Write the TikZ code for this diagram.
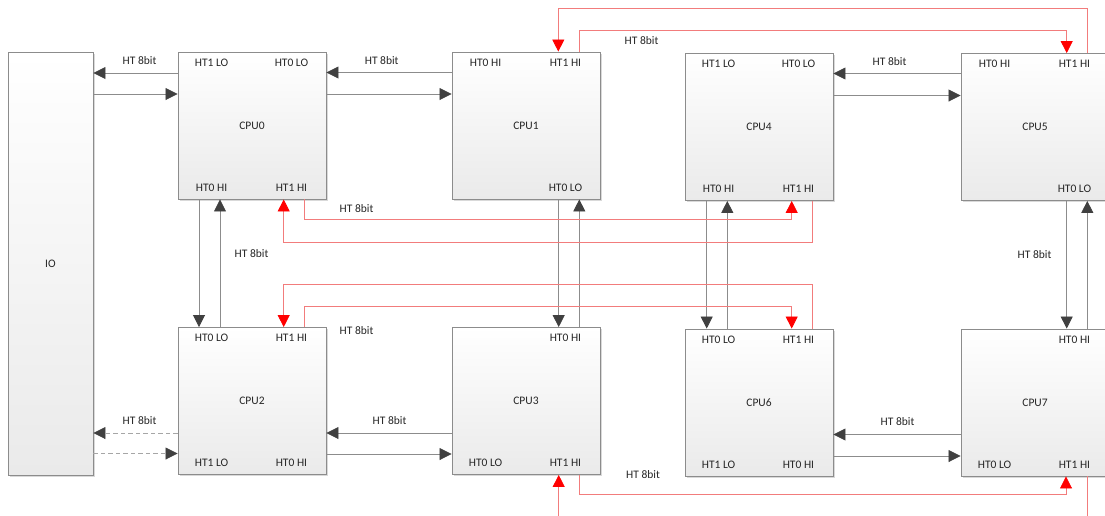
\documentclass[tikz,border=0pt]{standalone}
\usepackage{fontspec}
\setmainfont{Carlito}
\usetikzlibrary{arrows.meta,calc,shadows}
\definecolor{lnGray}{HTML}{8C8C8C}
\definecolor{lnDash}{HTML}{A6A6A6}
\definecolor{tipGray}{HTML}{404040}
\definecolor{lnRed}{HTML}{F27C7C}
\definecolor{tipRed}{HTML}{FF0000}
\definecolor{txtc}{HTML}{262626}
\definecolor{boxEdge}{HTML}{8C8C8C}
\definecolor{boxBot}{HTML}{EAEAEA}
\newcommand\labTL[2]{\node[plab] (#1tl) at ($(#1.north west)+(34,11)$) {#2};}
\newcommand\labTR[2]{\node[plab] (#1tr) at ($(#1.north east)+(-35,11)$) {#2};}
\newcommand\labBL[2]{\node[plab] (#1bl) at ($(#1.south west)+(34,-12)$) {#2};}
\newcommand\labBR[2]{\node[plab] (#1br) at ($(#1.south east)+(-35,-12)$) {#2};}
\begin{document}
\begin{tikzpicture}[x=1pt,y=-1pt,
  font=\fontsize{11.5}{13}\selectfont, text=txtc,
  box/.style={draw=boxEdge, line width=0.9pt, top color=white, bottom color=boxBot,
    minimum width=148pt, minimum height=147pt, inner sep=0pt,
    drop shadow={shadow xshift=1.5pt, shadow yshift=-1.5pt, fill=black, opacity=0.15}},
  plab/.style={inner sep=0pt, anchor=center},
  gar/.style={draw=lnGray, line width=0.8pt, -{Triangle[length=12pt,width=12pt,color=tipGray]}},
  dar/.style={gar, draw=lnDash, dash pattern=on 4.5pt off 3pt},
  rar/.style={draw=lnRed, line width=0.8pt, -{Triangle[length=12pt,width=12pt,color=tipRed]}},
  rln/.style={draw=lnRed, line width=0.8pt}]
\useasboundingbox (0,0) rectangle (1105,515);
\clip (0,0) rectangle (1105,515);

% boxes
\node[box, minimum width=85pt, minimum height=423pt] (io) at (50.5,263.5) {IO};
\node[box] (cpu0) at (252,125.5) {CPU0};
\node[box] (cpu1) at (526,125.5) {CPU1};
\node[box] (cpu4) at (759,127) {CPU4};
\node[box] (cpu5) at (1035,127) {CPU5};
\node[box] (cpu2) at (252,401) {CPU2};
\node[box] (cpu3) at (526,401) {CPU3};
\node[box] (cpu6) at (759,402.5) {CPU6};
\node[box] (cpu7) at (1035,402.5) {CPU7};

% port labels
\labTL{cpu0}{HT1 LO}\labTR{cpu0}{HT0 LO}\labBL{cpu0}{HT0 HI}\labBR{cpu0}{HT1 HI}
\labTL{cpu1}{HT0 HI}\labTR{cpu1}{HT1 HI}\labBR{cpu1}{HT0 LO}
\labTL{cpu4}{HT1 LO}\labTR{cpu4}{HT0 LO}\labBL{cpu4}{HT0 HI}\labBR{cpu4}{HT1 HI}
\labTL{cpu5}{HT0 HI}\labTR{cpu5}{HT1 HI}\labBR{cpu5}{HT0 LO}
\labTL{cpu2}{HT0 LO}\labTR{cpu2}{HT1 HI}\labBL{cpu2}{HT1 LO}\labBR{cpu2}{HT0 HI}
\labTR{cpu3}{HT0 HI}\labBL{cpu3}{HT0 LO}\labBR{cpu3}{HT1 HI}
\labTL{cpu6}{HT0 LO}\labTR{cpu6}{HT1 HI}\labBL{cpu6}{HT1 LO}\labBR{cpu6}{HT0 HI}
\labTR{cpu7}{HT0 HI}\labBL{cpu7}{HT0 LO}\labBR{cpu7}{HT1 HI}

% link labels
\node[plab] (l1) at (139.5,61) {HT 8bit};
\node[plab] (l2) at (381.7,60.5) {HT 8bit};
\node[plab] (l3) at (641.5,41) {HT 8bit};
\node[plab] (l4) at (889.5,62) {HT 8bit};
\node[plab] (l5) at (356.5,208.5) {HT 8bit};
\node[plab] (l6) at (251.5,253.5) {HT 8bit};
\node[plab] (l7) at (1034.5,255) {HT 8bit};
\node[plab] (l8) at (356.5,330.5) {HT 8bit};
\node[plab] (l9) at (139.5,420.7) {HT 8bit};
\node[plab] (l10) at (389.5,420.7) {HT 8bit};
\node[plab] (l11) at (897.5,422) {HT 8bit};
\node[plab] (l12) at (643,475) {HT 8bit};

% horizontal gray links
\draw[gar] (cpu0.west |- 0,73) -- (io.east |- 0,73);
\draw[gar] (io.east |- 0,94) -- (cpu0.west |- 0,94);
\draw[gar] (cpu1.west |- 0,72.5) -- (cpu0.east |- 0,72.5);
\draw[gar] (cpu0.east |- 0,94) -- (cpu1.west |- 0,94);
\draw[gar] (cpu5.west |- 0,73.5) -- (cpu4.east |- 0,73.5);
\draw[gar] (cpu4.east |- 0,95.5) -- (cpu5.west |- 0,95.5);
\draw[dar] (cpu2.west |- 0,433) -- (io.east |- 0,433);
\draw[dar] (io.east |- 0,453.5) -- (cpu2.west |- 0,453.5);
\draw[gar] (cpu3.west |- 0,433) -- (cpu2.east |- 0,433);
\draw[gar] (cpu2.east |- 0,454) -- (cpu3.west |- 0,454);
\draw[gar] (cpu7.west |- 0,434.5) -- (cpu6.east |- 0,434.5);
\draw[gar] (cpu6.east |- 0,456) -- (cpu7.west |- 0,456);

% vertical gray links
\draw[gar] (cpu0.south -| 199,0) -- (cpu2.north -| 199,0);
\draw[gar] (cpu2.north -| 220,0) -- (cpu0.south -| 220,0);
\draw[gar] (cpu1.south -| 558.7,0) -- (cpu3.north -| 558.7,0);
\draw[gar] (cpu3.north -| 579.3,0) -- (cpu1.south -| 579.3,0);
\draw[gar] (cpu4.south -| 706.7,0) -- (cpu6.north -| 706.7,0);
\draw[gar] (cpu6.north -| 727.3,0) -- (cpu4.south -| 727.3,0);
\draw[gar] (cpu5.south -| 1066.7,0) -- (cpu7.north -| 1066.7,0);
\draw[gar] (cpu7.north -| 1087.3,0) -- (cpu5.south -| 1087.3,0);

% red links
\draw[rar] (cpu0.south -| 304.7,0) -- (304.7,219.3) -- (791.7,219.3) -- (cpu4.south -| 791.7,0);
\draw[rar] (cpu4.south -| 812.3,0) -- (812.3,242.3) -- (283.7,242.3) -- (cpu0.south -| 283.7,0);
\draw[rar] (cpu6.north -| 812.3,0) -- (812.3,284.3) -- (283.7,284.3) -- (cpu2.north -| 283.7,0);
\draw[rar] (cpu2.north -| 304.7,0) -- (304.7,306.7) -- (791.7,306.7) -- (cpu6.north -| 791.7,0);
\draw[rar] (cpu5.north -| 1087.7,0) -- (1087.7,8.3) -- (558.3,8.3) -- (cpu1.north -| 558.3,0);
\draw[rar] (cpu1.north -| 579.3,0) -- (579.3,30) -- (1066.7,30) -- (cpu5.north -| 1066.7,0);
\draw[rar] (cpu3.south -| 579.3,0) -- (579.3,494.3) -- (1066,494.3) -- (cpu7.south -| 1066,0);
\coordinate (edgeA) at (558.7,520);
\coordinate (edgeB) at (1087.5,520);
\draw[rar] (edgeA) -- (cpu3.south -| edgeA);
\draw[rln] (cpu7.south -| edgeB) -- (edgeB);
\end{tikzpicture}
\end{document}
